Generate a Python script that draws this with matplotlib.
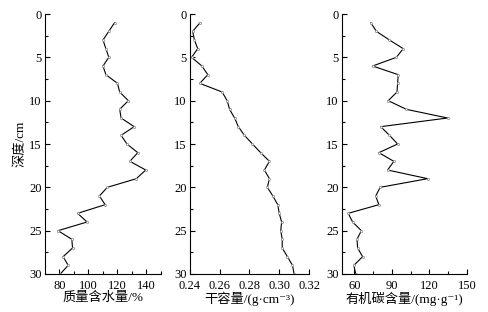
import matplotlib
matplotlib.use('Agg')
import matplotlib.pyplot as plt
from matplotlib.ticker import MultipleLocator

plt.rcParams['font.family'] = ['Liberation Serif', 'Noto Sans CJK SC', 'DejaVu Serif']
plt.rcParams['font.size'] = 9

# depth (cm)
depth = [1, 2, 3, 4, 5, 6, 7, 8, 9, 10, 11, 12, 13, 14, 15,
         16, 17, 18, 19, 20, 21, 22, 23, 24, 25, 26, 27, 28, 29, 30]

# mass water content (%)
water = [118, 114, 110, 112, 114, 110, 112, 120, 121.5, 127.5, 121.5, 122.5, 131.5, 122.5, 126.5,
         134, 128.5, 139.5, 133, 113, 107.5, 111.5, 92.5, 99, 79, 88.5, 89, 82.5, 86, 80.5]

# dry bulk density (g/cm3)
density = [0.2468, 0.2418, 0.243, 0.2452, 0.2411, 0.248, 0.252, 0.2466, 0.2616, 0.265,
           0.2666, 0.270, 0.2725, 0.2766, 0.282, 0.2875, 0.2934, 0.290, 0.2934, 0.292,
           0.2957, 0.299, 0.300, 0.3016, 0.301, 0.302, 0.302, 0.3055, 0.3089, 0.310]

# organic carbon content (mg/g)
carbon = [73, 77.5, 88, 99, 93.5, 74.5, 95, 94.5, 94, 87, 101.5, 134.5, 81, 88, 94.5,
          79.5, 91.5, 86.5, 118.5, 80.5, 77, 79.5, 55, 58.5, 65.5, 62, 62.5, 66.5, 59.5, 61]

fig = plt.figure(figsize=(4.88, 3.12), dpi=100)

panels = [
    (water, [0.0922, 0.1218, 0.2377, 0.8333], (70, 150), [80, 100, 120, 140], [90, 110, 130, 150],
     '%.0f', '质量含水量/%'),
    (density, [0.3893, 0.1218, 0.2439, 0.8333], (0.24, 0.32), [0.24, 0.26, 0.28, 0.30, 0.32], [],
     '%.2f', '干容量/(g·cm⁻³)'),
    (carbon, [0.7008, 0.1218, 0.2561, 0.8333], (50, 150), [60, 90, 120, 150], [75, 105, 135],
     '%.0f', '有机碳含量/(mg·g⁻¹)'),
]

for i, (values, pos, xlim, majors, minors, fmt, label) in enumerate(panels):
    ax = fig.add_axes(pos)
    ax.plot(values, depth, color='black', lw=0.8, marker='o', ms=1.6,
            mfc='white', mec='#888888', mew=0.5)
    ax.set_xlim(*xlim)
    ax.set_ylim(30, 0)
    ax.set_xticks(majors)
    ax.set_xticks(minors, minor=True)
    ax.set_xticklabels([fmt % v for v in majors])
    ax.yaxis.set_major_locator(MultipleLocator(5))
    ax.yaxis.set_minor_locator(MultipleLocator(2.5))
    for s in ('top', 'right'):
        ax.spines[s].set_visible(False)
    ax.tick_params(which='both', direction='in', width=0.8)
    ax.tick_params(which='major', length=3.5)
    ax.tick_params(axis='x', which='major', pad=4)
    ax.tick_params(axis='y', which='major', pad=2.5)
    ax.tick_params(which='minor', length=2.5)
    ax.set_xlabel(label, fontsize=9.5, labelpad=0)
    ax.set_facecolor('none')
    if i == 0:
        ax.set_ylabel('深度/cm', fontsize=9.5, labelpad=2)

fig.patch.set_facecolor('white')
fig.savefig('out.png', dpi=100)
